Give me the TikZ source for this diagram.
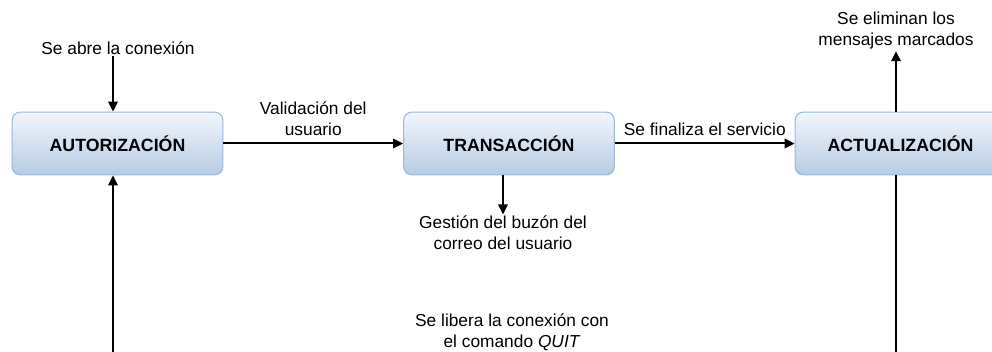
\documentclass[tikz,border=0pt]{standalone}
\usepackage{fontspec}
\setmainfont{Liberation Sans}
\usetikzlibrary{arrows.meta}
\definecolor{cajaarriba}{HTML}{F2F6FC}
\definecolor{cajaabajo}{HTML}{B7CBE4}
\definecolor{cajaborde}{HTML}{9BB7DA}

\tikzset{
	estado/.style={draw=cajaborde, line width=0.8pt, rounded corners=6pt,
		top color=cajaarriba, bottom color=cajaabajo,
		minimum width=158pt, minimum height=47pt,
		font=\fontsize{13.3}{15.75}\selectfont\bfseries},
	etiqueta/.style={align=center, inner sep=1pt,
		font=\fontsize{13}{15.75}\selectfont},
	flecha/.style={line width=1.5pt, -{Triangle[length=7.5pt,width=7pt]}}
}

\begin{document}
\begin{tikzpicture}[x=0.75pt, y=-0.75pt]
	\useasboundingbox (0,0) rectangle (992,352);
	% estados
	\node[estado] (aut) at (117.5,143.5) {AUTORIZACIÓN};
	\node[estado] (trans) at (509,143.5) {TRANSACCIÓN};
	\node[estado] (act) at (900.5,143.5) {ACTUALIZACIÓN};
	% textos sueltos
	\node[etiqueta] (abre) at (118,48) {Se abre la conexión};
	\node[etiqueta] (gestion) at (503,233) {Gestión del buzón del\\correo del usuario};
	\node[etiqueta] (elimina) at (896,31) {Se eliminan los\\mensajes marcados};
	\node[etiqueta] (libera) at (512,332) {Se libera la conexión con\\el comando \textit{QUIT}};
	\coordinate (esqder) at (896,352.7);
	\coordinate (esqizq) at (113,352.7);
	% flechas
	\draw[flecha] (abre.south -| esqizq) -- (aut.north -| esqizq);
	\draw[flecha] (aut) -- node[etiqueta, above=4pt] {Validación del\\usuario} (trans);
	\draw[flecha] (trans) -- node[etiqueta, above=4pt] {Se finaliza el servicio} (act);
	\draw[flecha] (trans.south -| gestion) -- (gestion);
	\draw[flecha] (act.north -| elimina) -- (elimina);
	\draw[flecha] (act.south -| esqder) -- (esqder) -- (esqizq) -- (aut.south -| esqizq);
\end{tikzpicture}
\end{document}
